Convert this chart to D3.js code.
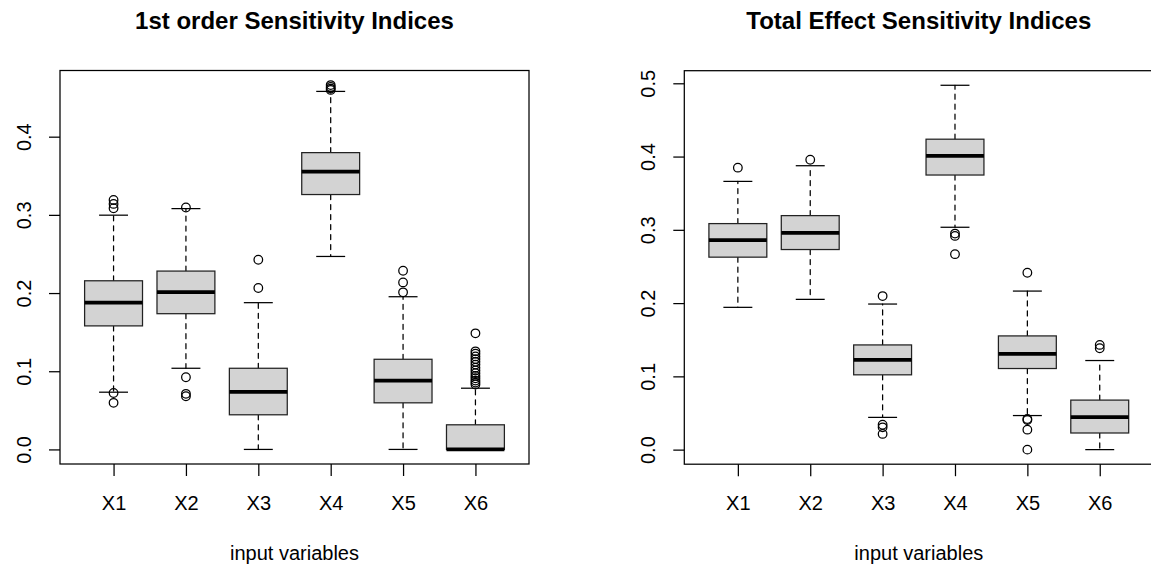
<!DOCTYPE html>
<html lang="en">
<head>
<meta charset="UTF-8">
<title>Sensitivity Indices</title>
<script src="https://cdn.jsdelivr.net/npm/d3@7"></script>
<style>
    html, body {
        margin: 0;
        background: #fff;
    }
    svg text {
        font-family: "Liberation Sans", Arial, Helvetica, sans-serif;
        fill: #000;
    }
</style>
</head>
<body>
<div id="chart"></div>
<script>
    const vars = ["X1", "X2", "X3", "X4", "X5", "X6"];

    // 1st order indices
    const firstLo  = [0.0732, 0.1038, 0.0,    0.2468, 0.0,    0.0];
    const firstQ1  = [0.158,  0.1736, 0.0443, 0.326,  0.0596, 0.0];
    const firstMed = [0.1877, 0.2013, 0.0736, 0.3553, 0.0881, 0.0];
    const firstQ3  = [0.2157, 0.2281, 0.1038, 0.3796, 0.1153, 0.0315];
    const firstHi  = [0.2996, 0.308,  0.1877, 0.4579, 0.1953, 0.0783];
    const firstOut = [
        [0.319, 0.314, 0.3085, 0.0722, 0.0596],
        [0.3094, 0.0923, 0.0711, 0.068],
        [0.2426, 0.2064],
        [0.466, 0.4635, 0.4615, 0.4598],
        [0.2285, 0.2136, 0.2009],
        [0.1485, 0.1255, 0.1225, 0.119, 0.1155, 0.112, 0.1085, 0.1045, 0.101,
         0.0975, 0.094, 0.091, 0.088, 0.0855, 0.083]
    ];

    // total effect indices
    const totalLo  = [0.1942, 0.2051, 0.044,  0.3035, 0.0465, 0.0];
    const totalQ1  = [0.2627, 0.2731, 0.1021, 0.3748, 0.1107, 0.0227];
    const totalMed = [0.2858, 0.2958, 0.1225, 0.4011, 0.1307, 0.0445];
    const totalQ3  = [0.3085, 0.3194, 0.1429, 0.4237, 0.1552, 0.0676];
    const totalHi  = [0.3661, 0.3875, 0.1987, 0.4973, 0.2164, 0.1216];
    const totalOut = [
        [0.3848],
        [0.3956],
        [0.2096, 0.034, 0.0304, 0.0214],
        [0.2949, 0.2917, 0.2668],
        [0.2414, 0.0418, 0.0405, 0.0272, 0.0],
        [0.1429, 0.1384]
    ];

    const firstTicks = [0, 0.1, 0.2, 0.3, 0.4];
    const totalTicks = [0, 0.1, 0.2, 0.3, 0.4, 0.5];

    const width = 1151, height = 564;
    const lw = 1.25;

    const svg = d3.select("#chart").append("svg")
        .attr("width", width)
        .attr("height", height);

    function drawPanel(p) {
        const g = svg.append("g");
        const left = p.left, right = p.left + 469, top = p.top, bottom = p.top + 393.5;

        // R style: xlim range(at) +- 0.5, then 4% padding
        const x = d3.scaleLinear().domain([0.26, 6.74]).range([left, right]);
        const all = d3.merge([p.lo, p.hi, d3.merge(p.out)]);
        const ext = d3.extent(all);
        const pad = (ext[1] - ext[0]) * 0.04;
        const y = d3.scaleLinear().domain([ext[0] - pad, ext[1] + pad]).range([bottom, top]);

        const boxes = vars.map((v, i) => ({
            i: i + 1, lo: p.lo[i], q1: p.q1[i], med: p.med[i], q3: p.q3[i], hi: p.hi[i], out: p.out[i]
        }));

        const bw = x(0.8) - x(0), sw = x(0.4) - x(0);
        const b = g.selectAll("g.box").data(boxes).join("g").attr("class", "box");

        // whiskers
        b.selectAll("line.wh").data(d => [[d.q3, d.hi], [d.q1, d.lo]].map(e => ({i: d.i, a: e[0], b: e[1]})))
            .join("line")
            .attr("class", "wh")
            .attr("x1", d => x(d.i)).attr("x2", d => x(d.i))
            .attr("y1", d => y(d.a)).attr("y2", d => y(d.b))
            .attr("stroke", "#000").attr("stroke-width", lw)
            .attr("stroke-dasharray", "5,5").attr("stroke-linecap", "round");

        // staples
        b.selectAll("line.st").data(d => [d.hi, d.lo].map(v => ({i: d.i, v})))
            .join("line")
            .attr("class", "st")
            .attr("x1", d => x(d.i) - sw / 2).attr("x2", d => x(d.i) + sw / 2)
            .attr("y1", d => y(d.v)).attr("y2", d => y(d.v))
            .attr("stroke", "#000").attr("stroke-width", lw);

        b.append("rect")
            .attr("x", d => x(d.i) - bw / 2)
            .attr("width", bw)
            .attr("y", d => y(d.q3))
            .attr("height", d => y(d.q1) - y(d.q3))
            .attr("fill", "#d3d3d3")
            .attr("stroke", "#222")
            .attr("stroke-width", lw);

        b.append("line")
            .attr("x1", d => x(d.i) - bw / 2).attr("x2", d => x(d.i) + bw / 2)
            .attr("y1", d => y(d.med)).attr("y2", d => y(d.med))
            .attr("stroke", "#000").attr("stroke-width", 3.75);

        b.selectAll("circle").data(d => d.out.map(v => ({i: d.i, v})))
            .join("circle")
            .attr("cx", d => x(d.i)).attr("cy", d => y(d.v))
            .attr("r", 4.3)
            .attr("fill", "none")
            .attr("stroke", "#000").attr("stroke-width", lw);

        // axes
        const ya = g.append("g")
            .attr("transform", `translate(${left},0)`)
            .call(d3.axisLeft(y).tickValues(p.ticks).tickSize(11).tickSizeOuter(0).tickFormat(d3.format(".1f")));
        ya.select(".domain").remove();
        ya.selectAll("line").attr("stroke-width", lw);
        ya.selectAll("text")
            .attr("font-size", 20)
            .attr("text-anchor", "middle")
            .attr("transform", "rotate(-90)")
            .attr("x", 0).attr("y", -29).attr("dy", 0)
            .attr("font-family", null);

        const xa = g.append("g")
            .attr("transform", `translate(0,${bottom})`)
            .call(d3.axisBottom(x).tickValues([1, 2, 3, 4, 5, 6]).tickSize(12).tickFormat(i => vars[i - 1]));
        xa.select(".domain").remove();
        xa.selectAll("line").attr("stroke-width", lw);
        xa.selectAll("text")
            .attr("font-size", 20)
            .attr("y", 46).attr("dy", 0)
            .attr("font-family", null);

        g.append("rect")
            .attr("x", left).attr("y", top)
            .attr("width", right - left).attr("height", bottom - top)
            .attr("fill", "none")
            .attr("stroke", "#000").attr("stroke-width", lw);

        const cx = (left + right) / 2;
        g.append("text")
            .attr("x", cx).attr("y", 28.5)
            .attr("text-anchor", "middle")
            .attr("font-size", 24).attr("font-weight", "bold")
            .text(p.title);

        g.append("text")
            .attr("x", cx).attr("y", 560)
            .attr("text-anchor", "middle")
            .attr("font-size", 20)
            .text("input variables");
    }

    drawPanel({
        left: 60, top: 70.5, title: "1st order Sensitivity Indices", ticks: firstTicks,
        lo: firstLo, q1: firstQ1, med: firstMed, q3: firstQ3, hi: firstHi, out: firstOut
    });
    drawPanel({
        left: 684.3, top: 70.7, title: "Total Effect Sensitivity Indices", ticks: totalTicks,
        lo: totalLo, q1: totalQ1, med: totalMed, q3: totalQ3, hi: totalHi, out: totalOut
    });
</script>
</body>
</html>
